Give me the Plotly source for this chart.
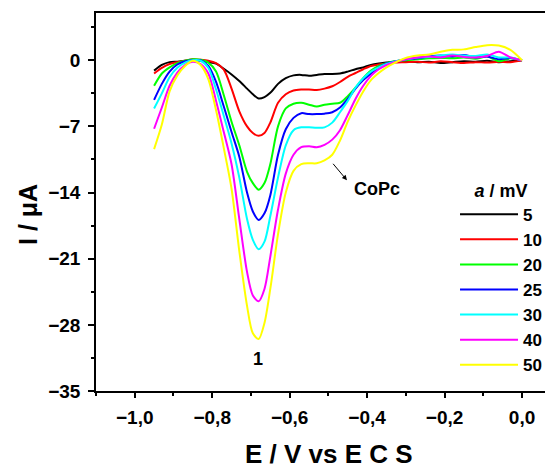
import plotly.graph_objects as go

# Potential (V vs ECS)
E = [-0.95, -0.93, -0.91, -0.89, -0.87, -0.85, -0.83, -0.81, -0.79, -0.77, -0.75, -0.73, -0.71,
     -0.695, -0.68, -0.665,
     -0.65, -0.63, -0.61, -0.59, -0.57, -0.55, -0.53, -0.51, -0.49, -0.47, -0.45, -0.43, -0.41,
     -0.39, -0.37, -0.35, -0.33,
     -0.30, -0.27, -0.24, -0.21, -0.18, -0.15, -0.12, -0.09, -0.06, -0.03, 0.0]

I_5 = [-1.1, -0.5, -0.2, -0.15, -0.05, 0.05, -0.05, -0.2, -0.35, -0.9, -1.5, -2.2, -3.0,
       -3.6, -4.05, -3.9,
       -3.45, -2.5, -1.9, -1.6, -1.55, -1.65, -1.55, -1.45, -1.45, -1.4, -1.2, -0.95, -0.75,
       -0.5, -0.35, -0.25, -0.15,
       -0.1, -0.2, -0.15, -0.3, -0.2, -0.1, -0.15, -0.05, -0.2, -0.1, 0.0]

I_10 = [-1.4, -0.8, -0.4, -0.2, -0.05, 0.1, 0.05, -0.05, -0.3, -1.0, -3.0, -5.4, -7.0,
        -7.7, -8.0, -7.7,
        -6.6, -4.5, -3.6, -3.2, -3.1, -3.1, -3.15, -3.0, -2.75, -2.3, -1.75, -1.35, -0.95,
        -0.6, -0.45, -0.35, -0.25,
        -0.2, -0.15, -0.25, -0.1, -0.2, -0.3, -0.2, -0.25, -0.15, -0.2, 0.0]

I_20 = [-2.7, -1.4, -0.75, -0.3, -0.05, 0.1, 0.05, -0.25, -1.2, -3.7, -6.5, -9.0, -11.8,
        -13.0, -13.7, -13.0,
        -11.0, -7.0, -5.1, -4.6, -4.5, -4.7, -4.9, -4.7, -4.6, -4.5, -3.8, -2.9, -1.9,
        -1.1, -0.6, -0.3, -0.1,
        0.0, 0.1, 0.2, 0.25, 0.2, 0.3, 0.15, 0.4, -0.1, 0.2, 0.0]

I_25 = [-4.2, -2.5, -1.2, -0.45, -0.1, 0.0, 0.0, -0.6, -2.3, -4.9, -7.6, -10.2, -14.0,
        -16.0, -16.9, -16.2,
        -14.3, -10.0, -7.3, -6.1, -5.6, -5.7, -5.7, -5.65, -5.5, -5.0, -4.1, -3.0, -2.1,
        -1.4, -0.75, -0.35, -0.15,
        0.1, 0.2, 0.4, 0.5, 0.4, 0.55, 0.3, 0.4, 0.1, 0.25, 0.0]

I_30 = [-5.1, -3.5, -1.8, -0.8, -0.25, 0.0, -0.05, -0.8, -3.1, -5.9, -8.8, -12.4, -16.8,
        -19.0, -20.0, -19.2,
        -16.5, -12.4, -9.0, -7.4, -7.1, -7.1, -7.15, -7.1, -6.6, -5.5, -4.3, -2.9, -1.9,
        -1.2, -0.75, -0.4, -0.15,
        0.1, 0.3, 0.35, 0.5, 0.6, 0.5, 0.45, 0.6, 0.3, 0.3, 0.0]

I_40 = [-7.25, -5.0, -2.7, -1.3, -0.5, -0.15, -0.4, -1.4, -4.3, -7.6, -11.0, -16.8, -22.4,
        -24.9, -25.5, -24.2,
        -20.8, -15.8, -12.0, -10.0, -9.2, -9.1, -9.2, -8.95, -8.4, -7.4, -5.8, -4.1, -2.7,
        -1.65, -0.95, -0.5, -0.2,
        0.1, 0.3, 0.4, 0.3, 0.5, 0.35, 0.3, 0.45, 0.9, 0.3, 0.0]

I_50 = [-9.4, -6.8, -3.3, -1.6, -0.6, -0.05, -0.5, -2.0, -5.3, -9.3, -13.6, -20.2, -26.0,
        -28.9, -29.5, -27.8,
        -24.2, -18.4, -14.0, -11.7, -11.0, -10.9, -10.9, -10.6, -10.0, -8.5, -6.5, -4.8, -3.3,
        -2.1, -1.35, -0.75, -0.3,
        0.25, 0.5, 0.6, 0.9, 1.1, 1.15, 1.4, 1.6, 1.55, 1.1, 0.0]

scan_rates = ["5", "10", "20", "25", "30", "40", "50"]
currents = [I_5, I_10, I_20, I_25, I_30, I_40, I_50]
colors = ["#000000", "#FF0000", "#00FF00", "#0000FF", "#00FFFF", "#FF00FF", "#FFFF00"]

y_ticks = [0, -7, -14, -21, -28, -35]
x_ticks = [-1.0, -0.8, -0.6, -0.4, -0.2, 0.0]

FONT = "Arial, Liberation Sans, sans-serif"

fig = go.Figure()
for name, cur, col in zip(scan_rates, currents, colors):
    fig.add_trace(go.Scatter(x=E, y=cur, mode="lines", name=name,
                             line=dict(color=col, width=2, shape="spline", smoothing=0.8)))

axis_common = dict(showgrid=False, zeroline=False, showline=True, linecolor="black",
                   linewidth=1.5, ticks="outside", tickcolor="black", tickwidth=1.5,
                   automargin=False,
                   tickfont=dict(family=FONT, size=19, color="black", weight="bold"))

fig.update_layout(
    width=545, height=461,
    margin=dict(l=88, r=0, t=5, b=78, autoexpand=False),
    paper_bgcolor="white", plot_bgcolor="white",
    separators=",.",
    font=dict(family=FONT, color="black"),
    xaxis=dict(range=[-1.1, 0.08], tickvals=x_ticks, tickformat=".1f", ticklen=5,
               ticklabelstandoff=3, mirror=True,
               minor=dict(dtick=0.1, tick0=0, ticks="outside", ticklen=3, tickwidth=1.5,
                          tickcolor="black"),
               **axis_common),
    yaxis=dict(range=[-35, 5], tickvals=y_ticks, ticklen=6, ticklabelstandoff=4,
               minor=dict(dtick=3.5, tick0=0, ticks="outside", ticklen=3, tickwidth=1.5,
                          tickcolor="black"),
               **axis_common),
    showlegend=True,
    legend=dict(x=0.7856, y=0.576, xanchor="left", yanchor="top", bgcolor="rgba(0,0,0,0)",
                font=dict(family=FONT, size=17, color="black", weight="bold"),
                title=dict(text="<i>a</i> / mV", side="top center",
                           font=dict(family=FONT, size=18, color="black", weight="bold")),
                itemwidth=58, tracegroupgap=0),
    annotations=[
        dict(text="I / μA", xref="paper", yref="paper", x=-0.149, y=0.468,
             xanchor="center", yanchor="middle", textangle=-90, showarrow=False,
             font=dict(family=FONT, size=25, color="black", weight="bold")),
        dict(text="E / V vs E C S", xref="paper", yref="paper", x=0.51, y=-0.167,
             xanchor="center", yanchor="middle", showarrow=False,
             font=dict(family=FONT, size=26, color="black", weight="bold")),
        dict(text="1", x=-0.682, y=-31.6, xref="x", yref="y", showarrow=False,
             font=dict(family=FONT, size=18, color="black", weight="bold")),
        dict(text="CoPc", x=-0.375, y=-13.6, xref="x", yref="y", showarrow=False,
             font=dict(family=FONT, size=18, color="black", weight="bold")),
        dict(text="", x=-0.452, y=-12.7, xref="x", yref="y", ax=-0.491, ay=-10.8,
             axref="x", ayref="y", showarrow=True, arrowhead=2, arrowsize=1,
             arrowwidth=1, arrowcolor="black", standoff=0, startstandoff=0),
    ],
)

fig.write_html("out.html")
